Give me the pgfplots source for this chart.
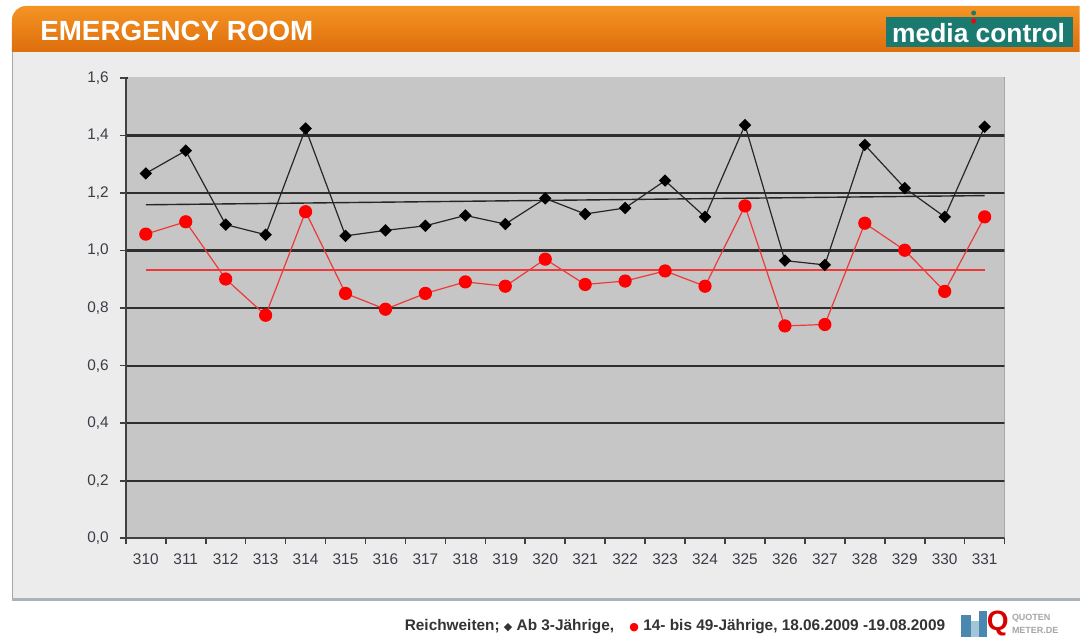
\documentclass[border=0pt]{standalone}
\usepackage{pgfplots}
\pgfplotsset{compat=1.18}
\usepackage{fontspec}
\setmainfont{Liberation Sans}
\newfontfamily\dejavu{DejaVu Sans}
\definecolor{orangeT}{HTML}{F59424}
\definecolor{orangeB}{HTML}{DD6E0C}
\definecolor{panel}{HTML}{ECECEC}
\definecolor{plotbg}{HTML}{C6C6C6}
\definecolor{gridc}{HTML}{2E2E2E}
\definecolor{mcteal}{HTML}{1B7A70}
\definecolor{ticktext}{HTML}{3C3C48}
\definecolor{redline}{HTML}{EC3A3A}
\definecolor{qblue}{HTML}{4A88B0}
\begin{document}
\begin{tikzpicture}
\begin{scope}[x=0.5pt,y=-0.5pt]
\fill[white] (0,0) rectangle (1081,638);
\fill[panel] (12,52) rectangle (1081,600);
\draw[black!35, line width=0.8pt] (12.5,52) -- (12.5,600);
\draw[color={rgb,255:red,170;green,178;blue,186}, line width=1.5pt] (12,600) -- (1081,600);
\shade[top color=orangeT, bottom color=orangeB] (12,52) [rounded corners=7pt]-- (12,6) [sharp corners]-- (1081,6) -- (1081,52) -- cycle;
\node[anchor=west, text=white, inner sep=0pt, font=\bfseries\fontsize{13.9}{15}\selectfont] at (40,31) {EMERGENCY ROOM};
\fill[mcteal] (887,17) rectangle (1074,47);
\node[text=white, inner sep=0pt, font=\bfseries\fontsize{13.2}{14}\selectfont] at (980,33) {media control};
\fill[red] (975,21) circle (2.5);
\fill[mcteal] (975,13) circle (2.5);
\node[anchor=west, inner sep=0pt, text=black!80, font=\bfseries\fontsize{7.7}{9}\selectfont] at (405,627) {Reichweiten; {\dejavu\fontsize{5.5}{6}\selectfont ◆} Ab 3-Jährige,\quad {\color{red}\dejavu\fontsize{5.5}{6}\selectfont ●} 14- bis 49-Jährige, 18.06.2009 -19.08.2009};
\fill[qblue] (962,616) rectangle (972,638);
\fill[qblue!50] (972,622) rectangle (980,638);
\fill[qblue] (980,612) rectangle (988,638);
\node[inner sep=0pt, text=red!85!black, font=\bfseries\fontsize{14}{15}\selectfont] at (999,624) {Q};
\node[anchor=west, inner sep=0pt, text=black!35, font=\bfseries\fontsize{4.5}{5}\selectfont] at (1013,619) {QUOTEN};
\node[anchor=west, inner sep=0pt, text=black!35, font=\bfseries\fontsize{4.5}{5}\selectfont] at (1013,631) {METER.DE};
\end{scope}
\begin{axis}[
  at={(63pt,-269.5pt)}, anchor=south west,
  scale only axis, width=440pt, height=230.5pt,
  xmin=-0.5, xmax=21.5, ymin=0, ymax=1.6,
  axis background/.style={fill=plotbg},
  axis x line*=bottom, axis y line*=left,
  axis line style={line width=1.2pt, color=black!75, -},
  tick align=outside, major tick length=3pt,
  tick style={line width=0.8pt, color=black!75},
  xtick={-0.5,0.5,...,21.5}, xticklabels={},
  extra x ticks={0,1,2,3,4,5,6,7,8,9,10,11,12,13,14,15,16,17,18,19,20,21},
  extra x tick labels={310,311,312,313,314,315,316,317,318,319,320,321,322,323,324,325,326,327,328,329,330,331},
  extra x tick style={major tick length=0pt, grid=none},
  ytick={0,0.2,0.4,0.6,0.8,1.0,1.2,1.4,1.6},
  ymajorgrids,
  major grid style={color=gridc, line width=1.1pt},
  yticklabel style={xshift=-2pt, /pgf/number format/.cd, fixed, fixed zerofill, precision=1, use comma, assume math mode=true},
  ticklabel style={font=\fontsize{7.7}{9}\selectfont, text=ticktext},
  xticklabel style={yshift=-4pt},
]
\draw[black!40, line width=0.6pt] (axis cs:21.5,0) -- (axis cs:21.5,1.6);
\draw[plotbg, line width=1.4pt] (axis cs:-0.45,1.6) -- (axis cs:21.55,1.6);
\addplot[black!85, line width=0.7pt] coordinates {(0,1.159) (21,1.191)};
\addplot[redline, line width=0.9pt] coordinates {(0,0.931) (21,0.931)};
\addplot[black!85, line width=0.6pt, mark=square*, mark size=1.9pt, mark options={fill=black, draw=black, rotate=45}] coordinates {
(0,1.268) (1,1.347) (2,1.090) (3,1.055) (4,1.424) (5,1.051) (6,1.070) (7,1.086) (8,1.122) (9,1.092) (10,1.181)
(11,1.127) (12,1.148) (13,1.243) (14,1.117) (15,1.436) (16,0.965) (17,0.950) (18,1.367) (19,1.217) (20,1.117) (21,1.430)};
\addplot[redline, line width=0.6pt, mark=*, mark size=3pt, mark options={fill=red, draw=red}] coordinates {
(0,1.057) (1,1.100) (2,0.901) (3,0.775) (4,1.135) (5,0.851) (6,0.796) (7,0.851) (8,0.891) (9,0.876) (10,0.970)
(11,0.882) (12,0.894) (13,0.929) (14,0.876) (15,1.155) (16,0.738) (17,0.743) (18,1.095) (19,1.001) (20,0.858) (21,1.117)};
\end{axis}
\end{tikzpicture}
\end{document}
